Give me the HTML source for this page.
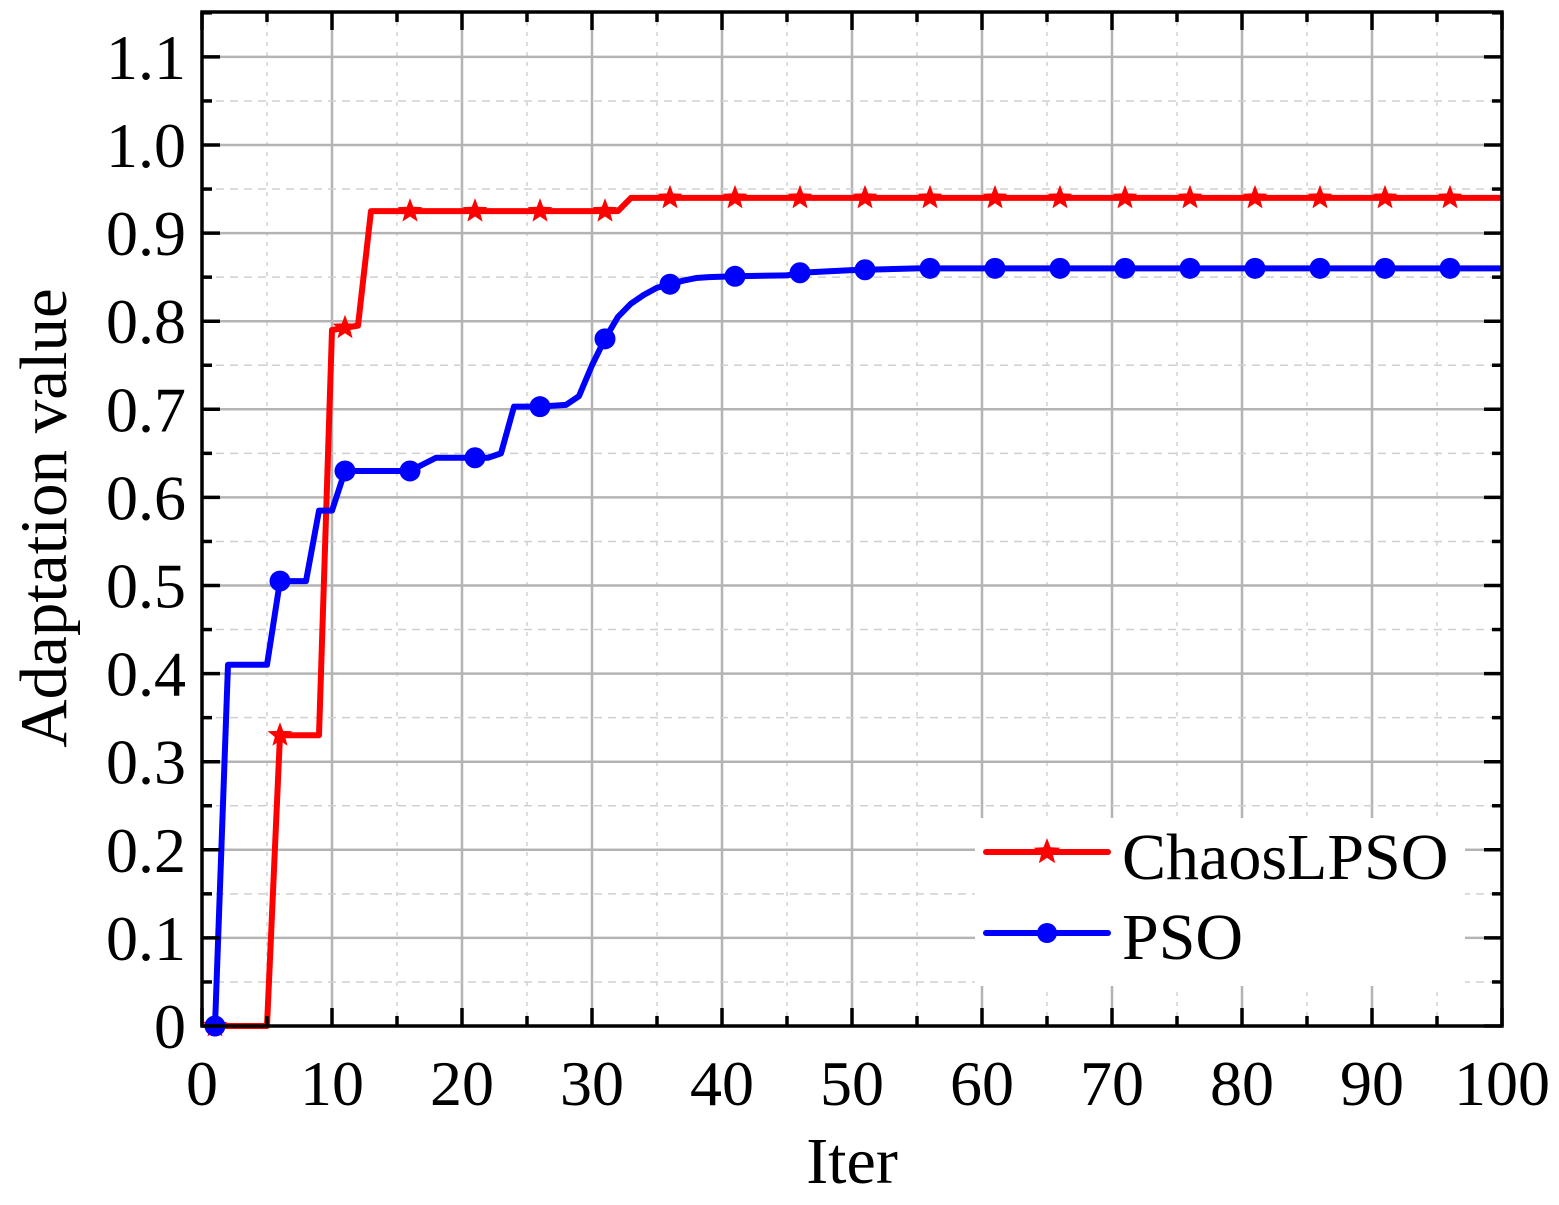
<!DOCTYPE html>
<html><head><meta charset="utf-8"><style>
html,body{margin:0;padding:0;background:#fff;}
svg{display:block;font-family:"Liberation Serif",serif;}
</style></head><body>
<svg id="chart" width="1559" height="1205" xmlns="http://www.w3.org/2000/svg"></svg>
<script>
const redIters = [1,5,6,9,10,12,13,32,33,100];
const redValues = [0,0,0.33,0.33,0.79,0.795,0.925,0.925,0.94,0.94];
const blueIters = [1,2,5,6,8,9,10,11,16,18,22,23,24,26,28,29,30,31,32,33,34,35,36,37,38,39,41,45,46,50,55,100];
const blueValues = [0,0.41,0.41,0.505,0.505,0.585,0.585,0.63,0.63,0.645,0.645,0.65,0.703,0.703,0.705,0.715,0.75,0.78,0.805,0.82,0.83,0.838,0.842,0.846,0.849,0.85,0.851,0.852,0.855,0.858,0.86,0.86];
const markerIters = [1,6,11,16,21,26,31,36,41,46,51,56,61,66,71,76,81,86,91,96];
const xTickLabels = ["0","10","20","30","40","50","60","70","80","90","100"];
const yTickLabels = ["0","0.1","0.2","0.3","0.4","0.5","0.6","0.7","0.8","0.9","1.0","1.1"];

const L=202,R=1502,T=12,B=1026;
const X=v=>L+(v/100)*(R-L);
const Y=v=>B-v*881;
const svg=document.getElementById('chart');
const NS='http://www.w3.org/2000/svg';
function mk(tag,attrs,parent){const e=document.createElementNS(NS,tag);for(const k in attrs)e.setAttribute(k,attrs[k]);(parent||svg).appendChild(e);return e;}
function interp(xs,ys,x){for(let i=0;i<xs.length-1;i++){if(x>=xs[i]&&x<=xs[i+1]){const t=(x-xs[i])/(xs[i+1]-xs[i]);return ys[i]+t*(ys[i+1]-ys[i]);}}return ys[ys.length-1];}

// grid
const grid=mk('g',{});


for(let i=0;i<=20;i++){const v=i*5;const x=X(v);const major=i%2===0;
 mk('line',{x1:x,y1:T,x2:x,y2:B,stroke:major?'#b4b4b4':'#d0d0d0','stroke-width':major?2.5:1.5,'stroke-dasharray':major?'':'4,6'},grid);}
for(let i=0;i<=23;i++){const v=i*0.05;const y=Y(v);if(y<T)continue;const major=i%2===0;
 mk('line',{x1:L,y1:y,x2:R,y2:y,stroke:major?'#b4b4b4':'#d0d0d0','stroke-width':major?2.5:1.5,'stroke-dasharray':major?'':'8,6'},grid);}

// series
function series(xs,ys,color,name){
 const g=mk('g',{});
 
 
 mk('polyline',{points:xs.map((x,i)=>X(x)+','+Y(ys[i])).join(' '),fill:'none',stroke:color,'stroke-width':6,'stroke-linejoin':'round'},g);
 return g;
}
function star(cx,cy,r,color,parent){let p=[];for(let i=0;i<10;i++){const a=-Math.PI/2+i*Math.PI/5;const rr=i%2?r*0.42:r;p.push((cx+rr*Math.cos(a)).toFixed(1)+','+(cy+rr*Math.sin(a)).toFixed(1));}
 return mk('polygon',{points:p.join(' '),fill:color},parent);}
const gr=series(redIters,redValues,'#ff0000','chaoslpso-line');
markerIters.forEach(it=>{const m=star(X(it),Y(interp(redIters,redValues,it)),13,'#ff0000',gr);
 
 });
const gb=series(blueIters,blueValues,'#0000ff','pso-line');
markerIters.forEach(it=>{const m=mk('circle',{cx:X(it),cy:Y(interp(blueIters,blueValues,it)),r:10.5,fill:'#0000ff'},gb);
 
 });

// legend
const lg=mk('g',{});


mk('rect',{x:975,y:818,width:490,height:168,fill:'#fff'},lg);
mk('line',{x1:986,y1:852,x2:1108,y2:852,stroke:'#ff0000','stroke-width':6,'stroke-linecap':'round'},lg);
star(1047,852,14,'#ff0000',lg);
mk('line',{x1:986,y1:933,x2:1108,y2:933,stroke:'#0000ff','stroke-width':6,'stroke-linecap':'round'},lg);
mk('circle',{cx:1047,cy:933,r:10,fill:'#0000ff'},lg);
const t1=mk('text',{x:1122,y:879,'font-size':66,fill:'#000'},lg);t1.textContent='ChaosLPSO';


const t2=mk('text',{x:1122,y:959,'font-size':66,fill:'#000'},lg);t2.textContent='PSO';



// axes frame and ticks
mk('rect',{x:L,y:T,width:R-L,height:B-T,fill:'none',stroke:'#000','stroke-width':3.5});
const ticks=mk('g',{stroke:'#000','stroke-width':3.5});
for(let i=0;i<=20;i++){const x=X(i*5);const len=i%2===0?18:10;
 mk('line',{x1:x,y1:B,x2:x,y2:B-len},ticks);mk('line',{x1:x,y1:T,x2:x,y2:T+len},ticks);}
for(let i=0;i<=23;i++){const y=Y(i*0.05);if(y<T)continue;const len=i%2===0?18:10;
 mk('line',{x1:L,y1:y,x2:L+len,y2:y},ticks);mk('line',{x1:R,y1:y,x2:R-len,y2:y},ticks);}

xTickLabels.forEach((s,i)=>{const t=mk('text',{x:X(i*10),y:1105,'font-size':64,'text-anchor':'middle',fill:'#000'});t.textContent=s;
 
 });
yTickLabels.forEach((s,i)=>{const t=mk('text',{x:186,y:Y(i*0.1)+22,'font-size':64,'text-anchor':'end',fill:'#000'});t.textContent=s;
 
 });
const xt=mk('text',{x:852,y:1183,'font-size':66,'text-anchor':'middle',fill:'#000'});xt.textContent='Iter';


const yt=mk('text',{x:0,y:0,'font-size':67,'text-anchor':'middle',fill:'#000',transform:'translate(66,518) rotate(-90)'});yt.textContent='Adaptation value';


</script>
</body></html>
